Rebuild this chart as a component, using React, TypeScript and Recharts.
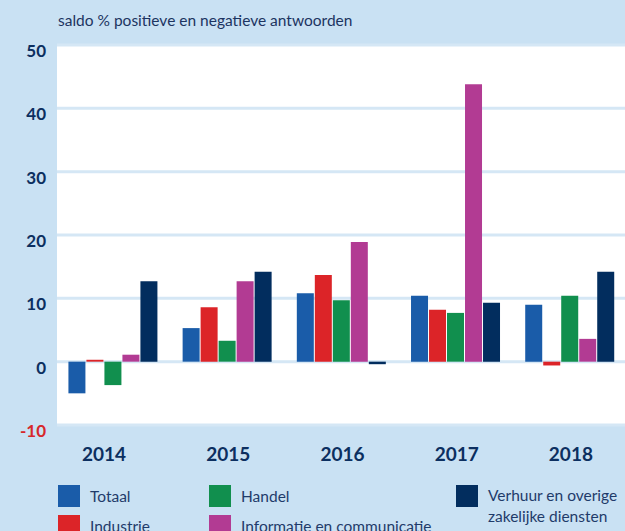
import React from 'react';
import { BarChart, Bar, XAxis, YAxis, CartesianGrid } from 'recharts';

const years = ['2014', '2015', '2016', '2017', '2018'];
const totaal = [-5.0, 5.3, 10.8, 10.4, 9.0];
const industrie = [0.3, 8.6, 13.7, 8.2, -0.6];
const handel = [-3.7, 3.3, 9.7, 7.7, 10.4];
const informatie = [1.1, 12.7, 18.9, 43.8, 3.6];
const verhuur = [12.7, 14.2, -0.4, 9.3, 14.2];
const yTicks = [-10, 0, 10, 20, 30, 40, 50];

const series = [
  { key: 'totaal', name: 'Totaal', color: '#1a5ca9', values: totaal },
  { key: 'industrie', name: 'Industrie', color: '#dc2428', values: industrie },
  { key: 'handel', name: 'Handel', color: '#118f4e', values: handel },
  { key: 'informatie', name: 'Informatie en communicatie', color: '#b23b93', values: informatie },
  { key: 'verhuur', name: 'Verhuur en overige zakelijke diensten', color: '#022d5e', values: verhuur },
];

const data = years.map((year, i) => {
  const row: Record<string, string | number> = { year };
  series.forEach((s) => {
    row[s.key] = s.values[i];
  });
  return row;
});

const NAVY = '#0c2f60';
const FONT = 'Lato, "Open Sans", sans-serif';

function YTick({ x, y, payload }: any) {
  const neg = payload.value < 0;
  return (
    <text x={x - 11} y={y} dy={12} textAnchor="end" fontSize={17} fontWeight={700}
      fontFamily={FONT} fill={neg ? '#d7272b' : NAVY}>
      {payload.value}
    </text>
  );
}

function XTick({ x, y, payload, index }: any) {
  return (
    <text x={x - (index === 0 ? 10 : 0)} y={y} dy={36} textAnchor="middle" fontSize={19}
      fontWeight={700} fontFamily={FONT} fill={NAVY}>
      {payload.value}
    </text>
  );
}

// legend columns: x of the swatch, items top to bottom
const legendCols = [
  { x: 58, items: [series[0], series[1]] },
  { x: 209, items: [series[2], series[3]] },
  { x: 456, items: [series[4]] },
];

export default function App() {
  return (
    <div style={{ position: 'absolute', left: 0, top: 0, width: 625, height: 531, overflow: 'hidden',
      background: '#c9e1f3', fontFamily: FONT }}>
      <div style={{ position: 'absolute', left: 58, top: 11, fontSize: 15.5, color: '#1c3461' }}>
        saldo % positieve en negatieve antwoorden
      </div>
      <BarChart width={640} height={470} data={data}
        margin={{ top: 45, right: 12, bottom: 0, left: 0 }}
        barCategoryGap="10%" barGap={1}>
        <CartesianGrid vertical={false} fill="#ffffff" stroke="#d5e7f5" strokeWidth={3} />
        <XAxis dataKey="year" height={45} axisLine={false} tickLine={false}
          tickSize={0} tickMargin={0} tick={<XTick />} interval={0} />
        <YAxis width={57} domain={[-10, 50]} ticks={yTicks} axisLine={false} tickLine={false}
          tickSize={0} tickMargin={0} tick={<YTick />} interval={0} />
        {series.map((s) => (
          <Bar key={s.key} dataKey={s.key} name={s.name} fill={s.color} isAnimationActive={false} />
        ))}
      </BarChart>
      {legendCols.map((col, ci) =>
        col.items.map((s, ri) => (
          <div key={s.key} style={{ position: 'absolute', left: col.x, top: 485 + ri * 30,
            display: 'flex', alignItems: 'flex-start' }}>
            <div style={{ width: 22, height: 22, background: s.color, flexShrink: 0 }} />
            <div style={{ marginLeft: 10, fontSize: 15.5, lineHeight: ci === 2 ? '21px' : '22px',
              color: '#1f3b6a', width: ci === 2 ? 140 : 'auto', whiteSpace: ci === 2 ? 'normal' : 'nowrap' }}>
              {s.name}
            </div>
          </div>
        ))
      )}
    </div>
  );
}
